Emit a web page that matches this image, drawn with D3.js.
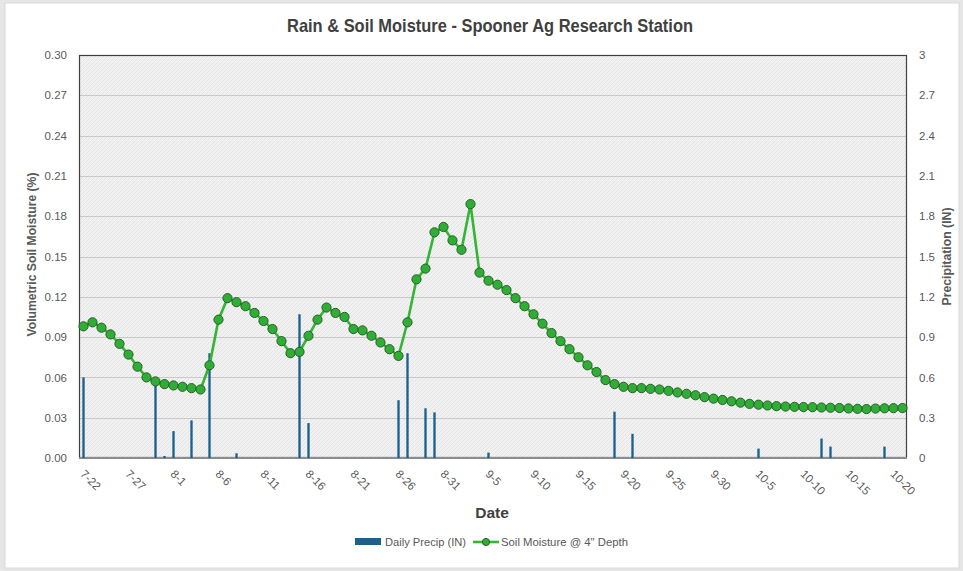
<!DOCTYPE html>
<html>
<head>
<meta charset="utf-8">
<script src="https://cdn.jsdelivr.net/npm/d3@7/dist/d3.min.js"></script>
<style>
  html, body { margin: 0; padding: 0; background: #e6e6e6; }
  svg { display: block; }
  text { font-family: "Liberation Sans Narrow", "Arial Narrow", "Liberation Sans", sans-serif; }
</style>
</head>
<body>
<svg id="chart" width="963" height="571"></svg>
<script>
// Daily dates 7-22 .. 10-21
const startDate = new Date(2024, 6, 22);
const endDate = new Date(2024, 9, 22);
const dates = d3.timeDay.range(startDate, endDate);
const fmt = d3.timeFormat("%-m-%-d");
const categories = dates.map(fmt);

// Soil moisture at 4" depth (volumetric fraction), one value per day
const soilMoisture = [
  0.098, 0.101, 0.097, 0.092, 0.085, 0.077, 0.068, 0.060, 0.057, 0.055,
  0.054, 0.053, 0.052, 0.051, 0.069, 0.103, 0.119, 0.116, 0.113, 0.108,
  0.102, 0.096, 0.087, 0.078, 0.079, 0.091, 0.103, 0.112, 0.108, 0.105,
  0.096, 0.095, 0.091, 0.086, 0.081, 0.076, 0.101, 0.133, 0.141, 0.168,
  0.172, 0.162, 0.155, 0.189, 0.138, 0.132, 0.129, 0.125, 0.119, 0.113,
  0.107, 0.100, 0.093, 0.087, 0.081, 0.075, 0.069, 0.064, 0.058, 0.055,
  0.053, 0.052, 0.052, 0.0515, 0.051, 0.050, 0.0488, 0.0478, 0.0467, 0.0453,
  0.0442, 0.0432, 0.0422, 0.0412, 0.0403, 0.0397, 0.0391, 0.0386, 0.0383, 0.0381,
  0.0379, 0.0378, 0.0376, 0.0374, 0.0372, 0.0369, 0.0366, 0.0364, 0.0368, 0.0370,
  0.0371, 0.0372
];

// Daily precipitation (inches), days with rain only
const precipDates = ["7-22", "7-30", "7-31", "8-1", "8-3", "8-5", "8-8", "8-15", "8-16",
  "8-26", "8-27", "8-29", "8-30", "9-5", "9-19", "9-21", "10-5", "10-12", "10-13", "10-19"];
const precipValues = [0.60, 0.54, 0.015, 0.20, 0.28, 0.78, 0.035, 1.07, 0.26,
  0.43, 0.78, 0.37, 0.34, 0.04, 0.345, 0.18, 0.07, 0.145, 0.085, 0.085];

const leftTicks = [0, 0.03, 0.06, 0.09, 0.12, 0.15, 0.18, 0.21, 0.24, 0.27, 0.30];
const rightTicks = [0, 0.3, 0.6, 0.9, 1.2, 1.5, 1.8, 2.1, 2.4, 2.7, 3];

const svg = d3.select("#chart");
const plot = { left: 79, right: 907, top: 55, bottom: 458 };

// chart canvas
svg.append("rect").attr("x", 5).attr("y", 3).attr("width", 954).attr("height", 565)
  .attr("fill", "#ffffff").attr("stroke", "#d9d9d9");

const defs = svg.append("defs");
const pat = defs.append("pattern").attr("id", "hatch").attr("patternUnits", "userSpaceOnUse")
  .attr("width", 4).attr("height", 4);
pat.append("rect").attr("width", 4).attr("height", 4).attr("fill", "#f1f1f1");
pat.append("path").attr("d", "M0,4 L4,0").attr("stroke", "#e4e4e4").attr("stroke-width", 1);

const x = d3.scaleBand().domain(categories).range([plot.left, plot.right]).padding(0);
const yL = d3.scaleLinear().domain([0, 0.30]).range([plot.bottom, plot.top]);
const yR = d3.scaleLinear().domain([0, 3]).range([plot.bottom, plot.top]);

// plot area
svg.append("rect").attr("x", plot.left).attr("y", plot.top)
  .attr("width", plot.right - plot.left).attr("height", plot.bottom - plot.top)
  .attr("fill", "url(#hatch)");

// gridlines
svg.append("g").selectAll("line").data(leftTicks.slice(1)).join("line")
  .attr("x1", plot.left).attr("x2", plot.right)
  .attr("y1", d => Math.round(yL(d)) + 0.5).attr("y2", d => Math.round(yL(d)) + 0.5)
  .attr("stroke", "#c9c9c9").attr("stroke-width", 1);

// plot border
svg.append("rect").attr("x", plot.left + 0.5).attr("y", plot.top + 0.5)
  .attr("width", plot.right - plot.left - 1).attr("height", plot.bottom - plot.top - 1)
  .attr("fill", "none").attr("stroke", "#3f3f3f").attr("stroke-width", 1.2);
svg.append("line").attr("x1", plot.left).attr("x2", plot.right)
  .attr("y1", plot.bottom).attr("y2", plot.bottom)
  .attr("stroke", "#8c8c8c").attr("stroke-width", 2);

// left axis
const axL = d3.axisLeft(yL).tickValues(leftTicks).tickFormat(d3.format(".2f")).tickSize(0).tickPadding(12);
const gL = svg.append("g").attr("transform", `translate(${plot.left},0)`).call(axL);
gL.select(".domain").remove();
gL.selectAll("text").attr("fill", "#595959").attr("font-size", 11.5);

// right axis
const axR = d3.axisRight(yR).tickValues(rightTicks).tickFormat(d => d3.format("")(+d.toFixed(1))).tickSize(0).tickPadding(12);
const gR = svg.append("g").attr("transform", `translate(${plot.right},0)`).call(axR);
gR.select(".domain").remove();
gR.selectAll("text").attr("fill", "#595959").attr("font-size", 11.5);

// bottom axis, a label every 5 days
const tickCats = categories.filter((d, i) => i % 5 === 0);
const axB = d3.axisBottom(x).tickValues(tickCats).tickSize(0).tickPadding(0);
const gB = svg.append("g").attr("transform", `translate(0,${plot.bottom})`).call(axB);
gB.select(".domain").remove();
gB.selectAll("text")
  .attr("fill", "#595959").attr("font-size", 11.5)
  .attr("text-anchor", "start").attr("dy", "0.35em")
  .attr("transform", "translate(-1,14) rotate(45)");

// precipitation bars
const barW = x.bandwidth() * 0.26;
svg.append("g").selectAll("rect").data(precipDates.map((d, i) => ({ d, v: precipValues[i] }))).join("rect")
  .attr("x", p => x(p.d) + x.bandwidth() / 2 - barW / 2)
  .attr("y", p => yR(p.v))
  .attr("width", barW)
  .attr("height", p => plot.bottom - yR(p.v))
  .attr("fill", "#1b6190");

// soil moisture line and markers
const pts = categories.map((c, i) => ({ c, v: soilMoisture[i] }));
const line = d3.line().x(p => x(p.c) + x.bandwidth() / 2).y(p => yL(p.v));
svg.append("path").datum(pts).attr("d", line)
  .attr("fill", "none").attr("stroke", "#34b534").attr("stroke-width", 2.6);
svg.append("g").selectAll("circle").data(pts).join("circle")
  .attr("cx", p => x(p.c) + x.bandwidth() / 2)
  .attr("cy", p => yL(p.v))
  .attr("r", 4.6)
  .attr("fill", "#2fae35").attr("stroke", "#2b5e2b").attr("stroke-width", 1);

// titles
svg.append("text").attr("x", 490).attr("y", 32).attr("text-anchor", "middle")
  .attr("font-size", 18.5).attr("font-weight", "bold").attr("fill", "#404040")
  .attr("textLength", 406).attr("lengthAdjust", "spacingAndGlyphs")
  .text("Rain & Soil Moisture - Spooner Ag Research Station");

svg.append("text").attr("transform", `translate(36,${(plot.top + plot.bottom) / 2 - 2}) rotate(-90)`)
  .attr("text-anchor", "middle").attr("font-size", 12.5).attr("font-weight", "bold").attr("fill", "#595959")
  .attr("textLength", 164).attr("lengthAdjust", "spacingAndGlyphs")
  .text("Volumetric Soil Moisture (%)");

svg.append("text").attr("transform", `translate(951,${(plot.top + plot.bottom) / 2}) rotate(-90)`)
  .attr("text-anchor", "middle").attr("font-size", 12.5).attr("font-weight", "bold").attr("fill", "#595959")
  .attr("textLength", 98).attr("lengthAdjust", "spacingAndGlyphs")
  .text("Precipitation (IN)");

svg.append("text").attr("x", 492).attr("y", 518).attr("text-anchor", "middle")
  .attr("font-size", 15.5).attr("font-weight", "bold").attr("fill", "#404040")
  .text("Date");

// legend
const lg = svg.append("g").attr("transform", "translate(0,542)");
lg.append("rect").attr("x", 355).attr("y", -4).attr("width", 26).attr("height", 7).attr("fill", "#1b6190");
lg.append("text").attr("x", 385).attr("y", 0).attr("dy", "0.35em").attr("font-size", 11.5).attr("fill", "#595959")
  .attr("textLength", 81).attr("lengthAdjust", "spacingAndGlyphs")
  .text("Daily Precip (IN)");
lg.append("line").attr("x1", 473).attr("x2", 499).attr("y1", 0).attr("y2", 0)
  .attr("stroke", "#34b534").attr("stroke-width", 2.6);
lg.append("circle").attr("cx", 486).attr("cy", 0).attr("r", 3.6)
  .attr("fill", "#2fae35").attr("stroke", "#2b5e2b").attr("stroke-width", 1);
lg.append("text").attr("x", 501).attr("y", 0).attr("dy", "0.35em").attr("font-size", 11.5).attr("fill", "#595959")
  .attr("textLength", 127).attr("lengthAdjust", "spacingAndGlyphs")
  .text("Soil Moisture @ 4\" Depth");
</script>
</body>
</html>
